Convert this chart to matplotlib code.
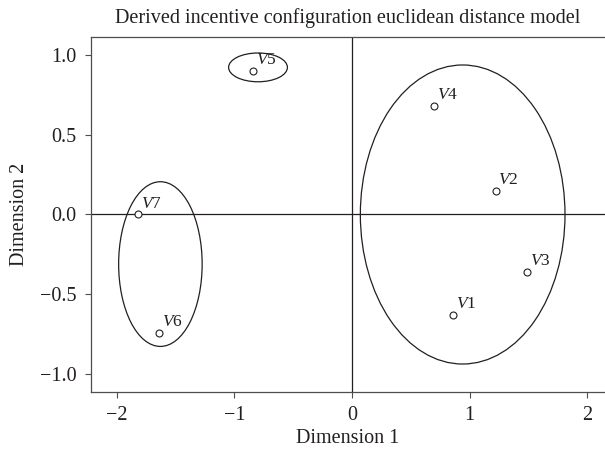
import matplotlib.pyplot as plt
from matplotlib.patches import Ellipse

# Data
labels = ['V1', 'V2', 'V3', 'V4', 'V5', 'V6', 'V7']
dim1 = [0.86, 1.22, 1.49, 0.70, -0.84, -1.64, -1.82]
dim2 = [-0.63, 0.15, -0.36, 0.68, 0.90, -0.74, 0.00]

# Cluster ellipses: centre x, centre y, width, height
clusters_x = [0.94, -1.63, -0.80]
clusters_y = [0.00, -0.31, 0.92]
clusters_w = [1.74, 0.71, 0.50]
clusters_h = [1.87, 1.03, 0.18]

plt.rcParams['font.family'] = ['Liberation Serif', 'DejaVu Serif']
plt.rcParams['mathtext.fontset'] = 'custom'
plt.rcParams['mathtext.rm'] = 'Liberation Serif'
plt.rcParams['mathtext.it'] = 'Liberation Serif:italic'
text_color = '#231f20'
fs = 14.5

fig = plt.figure(figsize=(6.05, 4.55), dpi=100)
ax = fig.add_axes([91 / 605, 63 / 455, 514 / 605, 355 / 455])

# Reference lines through the origin
ax.axhline(0, color=text_color, lw=0.9, zorder=1)
ax.axvline(0, color=text_color, lw=0.9, zorder=1)

# Ellipses
for cx, cy, w, h in zip(clusters_x, clusters_y, clusters_w, clusters_h):
    ax.add_patch(Ellipse((cx, cy), w, h, fill=False, edgecolor=text_color, lw=0.9, zorder=2))

# Points
ax.plot(dim1, dim2, 'o', ms=5, mfc='white', mec=text_color, mew=0.8, zorder=3)
for name, x, y in zip(labels, dim1, dim2):
    ax.annotate(r'$\mathit{%s}$%s' % (name[0], name[1:]), (x, y), xytext=(2, 2),
                textcoords='offset points', ha='left', va='bottom',
                fontsize=12.5, color=text_color)

ax.set_xlim(-2.22, 2.15)
ax.set_ylim(-1.11, 1.11)
ax.set_xticks([-2, -1, 0, 1, 2])
ax.set_xticklabels(['\u22122', '\u22121', '0', '1', '2'])
ax.set_yticks([-1.0, -0.5, 0.0, 0.5, 1.0])
ax.set_yticklabels(['\u22121.0', '\u22120.5', '0.0', '0.5', '1.0'])

ax.set_xlabel('Dimension 1', fontsize=fs, color=text_color, labelpad=3)
ax.set_ylabel('Dimension 2', fontsize=fs, color=text_color, labelpad=8)
ax.set_title('Derived incentive configuration euclidean distance model',
             fontsize=fs, color=text_color, pad=10)

# Axis styling
ax.spines['right'].set_visible(False)
for side in ['left', 'bottom', 'top']:
    ax.spines[side].set_color('#4d4d4d')
    ax.spines[side].set_linewidth(0.9)
ax.tick_params(axis='both', direction='out', length=4.3, width=0.8, pad=6,
               colors='#4d4d4d', labelcolor=text_color, labelsize=fs)

fig.savefig('out.png', dpi=100)
